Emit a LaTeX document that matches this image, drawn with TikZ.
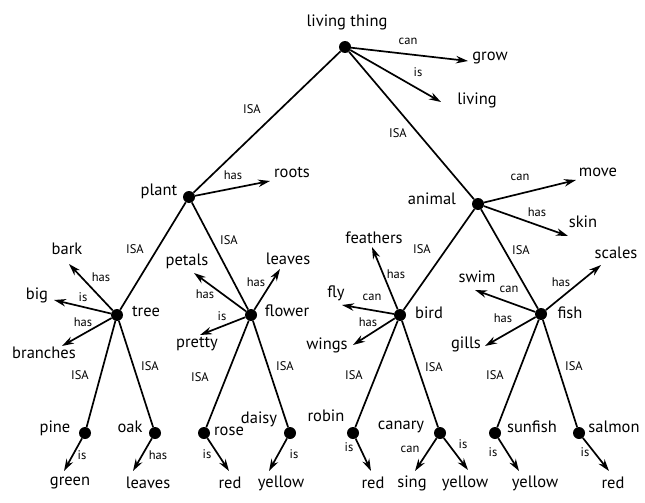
\documentclass[tikz,border=0pt]{standalone}
\usepackage{fontspec}
\setmainfont{PT Sans}
\usetikzlibrary{arrows.meta}
\begin{document}
\begin{tikzpicture}[x=1pt,y=-1pt,
  dot/.style={circle,fill=black,inner sep=0pt,minimum size=12pt},
  big/.style={font=\fontsize{16.5}{16.5}\selectfont,inner sep=0pt},
  lbl/.style={font=\fontsize{12.5}{12.5}\selectfont,inner sep=0pt},
  isa/.style={line width=1.7pt},
  rel/.style={line width=1.7pt,-{Stealth[length=12pt,width=7.5pt]}}]
\useasboundingbox (0,0) rectangle (645,503);
% dots
\node[dot] (lt) at (345,47) {};
\node[dot] (plant) at (189,197) {};
\node[dot] (animal) at (478,204) {};
\node[dot] (tree) at (117,315) {};
\node[dot] (flower) at (251,315) {};
\node[dot] (bird) at (400,315) {};
\node[dot] (fish) at (541,314) {};
\node[dot] (pine) at (85,433) {};
\node[dot] (oak) at (155,433) {};
\node[dot] (rose) at (204,433) {};
\node[dot] (daisy) at (290,433) {};
\node[dot] (robin) at (353,433) {};
\node[dot] (canary) at (440,433) {};
\node[dot] (sunfish) at (495,433) {};
\node[dot] (salmon) at (579,433) {};
% names
\node[big] (tlt) at (347,22) {living thing};
\node[big] (tplant) at (159,191) {plant};
\node[big] (tanimal) at (432,199) {animal};
\node[big] (ttree) at (146,311) {tree};
\node[big] (tflower) at (287,311) {flower};
\node[big] (tbird) at (429,313) {bird};
\node[big] (tfish) at (570,313) {fish};
\node[big] (tpine) at (55,428) {pine};
\node[big] (toak) at (130,427) {oak};
\node[big] (trose) at (229,431) {rose};
\node[big] (tdaisy) at (259,419) {daisy};
\node[big] (trobin) at (326,416) {robin};
\node[big] (tcanary) at (401,427) {canary};
\node[big] (tsunfish) at (532,427) {sunfish};
\node[big] (tsalmon) at (614,427) {salmon};
% ISA links
\draw[isa] (lt) -- (plant);
\draw[isa] (lt) -- (animal);
\draw[isa] (plant) -- (tree);
\draw[isa] (plant) -- (flower);
\draw[isa] (animal) -- (bird);
\draw[isa] (animal) -- (fish);
\draw[isa] (tree) -- (pine);
\draw[isa] (tree) -- (oak);
\draw[isa] (flower) -- (rose);
\draw[isa] (flower) -- (daisy);
\draw[isa] (bird) -- (robin);
\draw[isa] (bird) -- (canary);
\draw[isa] (fish) -- (sunfish);
\draw[isa] (fish) -- (salmon);
\node[lbl] (i1) at (252,109) {ISA};
\node[lbl] (i2) at (398,133) {ISA};
\node[lbl] (i3) at (135,249) {ISA};
\node[lbl] (i4) at (229,240) {ISA};
\node[lbl] (i5) at (422,249) {ISA};
\node[lbl] (i6) at (521,250) {ISA};
\node[lbl] (i7) at (80,375) {ISA};
\node[lbl] (i8) at (150,366) {ISA};
\node[lbl] (i9) at (200,377) {ISA};
\node[lbl] (i10) at (285,366) {ISA};
\node[lbl] (i11) at (354,375) {ISA};
\node[lbl] (i12) at (434,367) {ISA};
\node[lbl] (i13) at (495,375) {ISA};
\node[lbl] (i14) at (574,366) {ISA};
% property targets
\coordinate (cgrow) at (468,61);
\coordinate (cliving) at (441,102);
\coordinate (croots) at (270,181);
\coordinate (cmove) at (576,180);
\coordinate (cskin) at (568,236);
\coordinate (cbark) at (69,264);
\coordinate (cbig) at (54,300);
\coordinate (cbranches) at (62,346);
\coordinate (cpetals) at (194,273);
\coordinate (cleaves) at (280,269);
\coordinate (cpretty) at (200,335);
\coordinate (cfeathers) at (372,247);
\coordinate (cfly) at (342,305);
\coordinate (cwings) at (353,345);
\coordinate (cswim) at (475,290);
\coordinate (cscales) at (601,265);
\coordinate (cgills) at (485,346);
\coordinate (cgreen) at (64,471);
\coordinate (cleaves2) at (133,471);
\coordinate (cred1) at (229,471);
\coordinate (cyellow1) at (269,471);
\coordinate (cred2) at (371,471);
\coordinate (csing) at (415,471);
\coordinate (cyellow2) at (468,470);
\coordinate (cyellow3) at (519,471);
\coordinate (cred3) at (609,471);
\draw[rel] (lt) -- (cgrow);
\draw[rel] (lt) -- (cliving);
\draw[rel] (plant) -- (croots);
\draw[rel] (animal) -- (cmove);
\draw[rel] (animal) -- (cskin);
\draw[rel] (tree) -- (cbark);
\draw[rel] (tree) -- (cbig);
\draw[rel] (tree) -- (cbranches);
\draw[rel] (flower) -- (cpetals);
\draw[rel] (flower) -- (cleaves);
\draw[rel] (flower) -- (cpretty);
\draw[rel] (bird) -- (cfeathers);
\draw[rel] (bird) -- (cfly);
\draw[rel] (bird) -- (cwings);
\draw[rel] (fish) -- (cswim);
\draw[rel] (fish) -- (cscales);
\draw[rel] (fish) -- (cgills);
\draw[rel] (pine) -- (cgreen);
\draw[rel] (oak) -- (cleaves2);
\draw[rel] (rose) -- (cred1);
\draw[rel] (daisy) -- (cyellow1);
\draw[rel] (robin) -- (cred2);
\draw[rel] (canary) -- (csing);
\draw[rel] (canary) -- (cyellow2);
\draw[rel] (sunfish) -- (cyellow3);
\draw[rel] (salmon) -- (cred3);
% property texts
\node[big] (pgrow) at (490,58) {grow};
\node[big] (pliving) at (477,100) {living};
\node[big] (proots) at (292,172) {roots};
\node[big] (pmove) at (598,172) {move};
\node[big] (pskin) at (583,222) {skin};
\node[big] (pbark) at (67,249) {bark};
\node[big] (pbig) at (37,295) {big};
\node[big] (pbranches) at (44,353) {branches};
\node[big] (ppetals) at (187,261) {petals};
\node[big] (pleaves) at (288,259) {leaves};
\node[big] (ppretty) at (197,344) {pretty};
\node[big] (pfeathers) at (374,238) {feathers};
\node[big] (pfly) at (336,293) {fly};
\node[big] (pwings) at (327,345) {wings};
\node[big] (pswim) at (477,277) {swim};
\node[big] (pscales) at (616,253) {scales};
\node[big] (pgills) at (466,344) {gills};
\node[big] (pgreen) at (70,483) {green};
\node[big] (pleaves2) at (148,483) {leaves};
\node[big] (pred1) at (230,483) {red};
\node[big] (pyellow1) at (281,483) {yellow};
\node[big] (pred2) at (373,483) {red};
\node[big] (psing) at (412,483) {sing};
\node[big] (pyellow2) at (465,483) {yellow};
\node[big] (pyellow3) at (535,483) {yellow};
\node[big] (pred3) at (613,483) {red};
% relation labels
\node[lbl] (r1) at (408,41) {can};
\node[lbl] (r2) at (418,72) {is};
\node[lbl] (r3) at (233,175) {has};
\node[lbl] (r4) at (520,177) {can};
\node[lbl] (r5) at (537,212) {has};
\node[lbl] (r6) at (101,277) {has};
\node[lbl] (r7) at (83,297) {is};
\node[lbl] (r8) at (83,322) {has};
\node[lbl] (r9) at (205,294) {has};
\node[lbl] (r10) at (256,282) {has};
\node[lbl] (r11) at (222,316) {is};
\node[lbl] (r12) at (396,274) {has};
\node[lbl] (r13) at (372,297) {can};
\node[lbl] (r14) at (368,322) {has};
\node[lbl] (r15) at (509,289) {can};
\node[lbl] (r16) at (561,282) {has};
\node[lbl] (r17) at (503,318) {has};
\node[lbl] (r18) at (82,455) {is};
\node[lbl] (r19) at (158,455) {has};
\node[lbl] (r20) at (207,454) {is};
\node[lbl] (r21) at (294,454) {is};
\node[lbl] (r22) at (349,447) {is};
\node[lbl] (r23) at (410,449) {can};
\node[lbl] (r24) at (463,444) {is};
\node[lbl] (r25) at (493,452) {is};
\node[lbl] (r26) at (585,452) {is};
\end{tikzpicture}
\end{document}
